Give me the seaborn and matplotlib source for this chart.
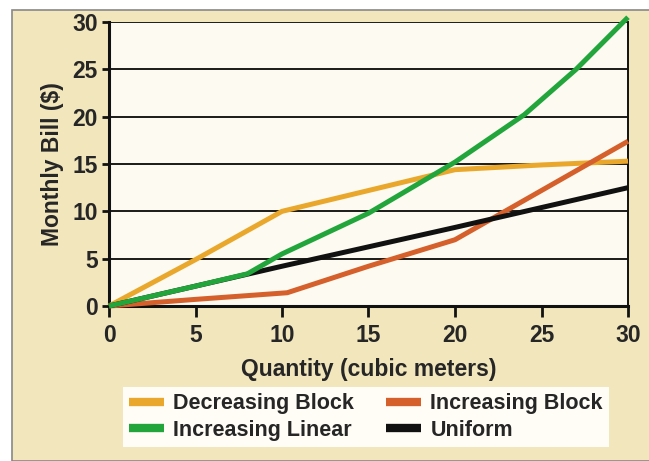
import pandas as pd
import matplotlib.pyplot as plt
import seaborn as sns
from matplotlib.patches import Rectangle

# values
dec_x = [0, 5, 10, 15, 20, 25, 30]
dec_y = [0, 4.9, 10.0, 12.2, 14.4, 14.9, 15.3]

inc_block_x = [0, 5, 10.3, 15, 20, 25, 30]
inc_block_y = [0, 0.7, 1.4, 4.2, 7.0, 12.2, 17.4]

inc_lin_x = [0, 5, 8, 10, 15, 20, 24, 27, 30]
inc_lin_y = [0, 2.1, 3.4, 5.5, 9.8, 15.2, 20.2, 25.0, 30.5]

uni_x = [0, 10, 20, 30]
uni_y = [0, 4.2, 8.3, 12.5]

series = ['Decreasing Block', 'Increasing Block', 'Uniform', 'Increasing Linear']
colors = {
    'Decreasing Block': '#E9A82C',
    'Increasing Block': '#D5602B',
    'Increasing Linear': '#22A63C',
    'Uniform': '#111111',
}

frames = []
for name, xs, ys in [
    ('Decreasing Block', dec_x, dec_y),
    ('Increasing Block', inc_block_x, inc_block_y),
    ('Increasing Linear', inc_lin_x, inc_lin_y),
    ('Uniform', uni_x, uni_y),
]:
    frames.append(pd.DataFrame({'Quantity': xs, 'Bill': ys, 'Rate': name}))
df = pd.concat(frames, ignore_index=True)

sns.set_style('white')
plt.rcParams['font.family'] = ['Liberation Sans Narrow', 'Liberation Sans', 'DejaVu Sans']
plt.rcParams['font.weight'] = 'bold'

fig = plt.figure(figsize=(6.49, 4.61), dpi=100)
fig.patch.set_facecolor('white')
fig.patches.append(Rectangle((12 / 649, 0), 1, 1 - 10 / 461, transform=fig.transFigure,
                             facecolor='#F2E6BC', edgecolor='#888888', linewidth=1.2, zorder=-10))

ax = fig.add_axes([109 / 649, 1 - 306 / 461, 519 / 649, 284 / 461])
ax.set_facecolor('#FCFAF1')

sns.lineplot(
    data=df, x='Quantity', y='Bill', hue='Rate', hue_order=series,
    palette=colors, sort=False, estimator=None, linewidth=3.6, ax=ax,
    legend=False, zorder=3
)
for line in ax.lines:
    line.set_clip_on(False)
    line.set_solid_capstyle('butt')

ax.set_xlim(0, 30)
ax.set_ylim(0, 30)
ax.set_xticks(range(0, 31, 5))
ax.set_yticks(range(0, 31, 5))
ax.yaxis.grid(True, color='#1a1a1a', linewidth=1.4)
ax.set_axisbelow(True)

for side in ['left', 'bottom']:
    ax.spines[side].set_color('#111111')
    ax.spines[side].set_linewidth(2.2)
ax.spines['right'].set_color('#111111')
ax.spines['right'].set_linewidth(1.4)
ax.spines['top'].set_visible(False)

ax.tick_params(axis='x', direction='out', length=8, width=2, color='#111111',
               labelsize=16.5, pad=5, bottom=True)
ax.tick_params(axis='y', direction='out', length=5, width=2, color='#111111',
               labelsize=16.5, pad=3, left=True)

ax.set_xlabel('Quantity (cubic meters)', fontsize=16.5, fontweight='bold', labelpad=8)
ax.set_ylabel('Monthly Bill ($)', fontsize=16.5, fontweight='bold', labelpad=6)

labels = ['Decreasing Block', 'Increasing Linear', 'Increasing Block', 'Uniform']
handles = [plt.Line2D([], [], color=colors[s], linewidth=6, solid_capstyle='butt')
           for s in labels]
leg = fig.legend(
    handles, labels, ncol=2, loc='lower left',
    bbox_to_anchor=(112 / 649, 3 / 461, 508 / 649, 67 / 461), mode='expand',
    frameon=True, fancybox=False, facecolor='#FFFDF6', edgecolor='none', framealpha=1,
    prop={'size': 15.5, 'weight': 'bold'}, handlelength=1.6, handletextpad=0.45,
    labelspacing=0.25, borderpad=0.3, columnspacing=1.0
)

fig.savefig('out.png', dpi=100)
